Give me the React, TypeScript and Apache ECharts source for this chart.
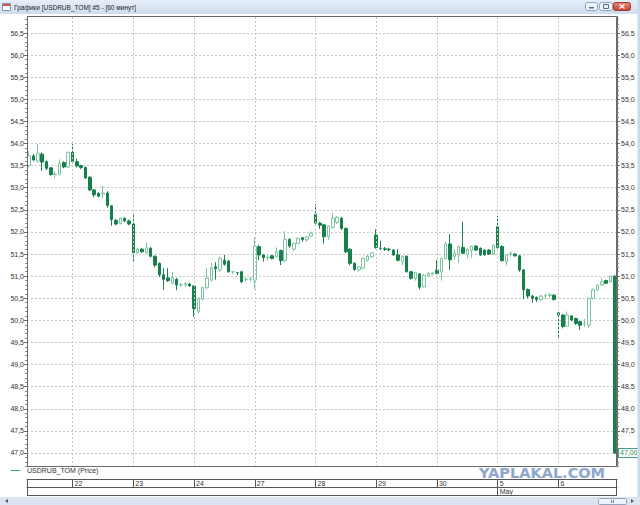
import React, { useEffect, useRef } from 'react';
import * as echarts from 'echarts';

// ---- data ----
const dayLabels = ['21', '22', '23', '24', '27', '28', '29', '30', '5', '6'];
const monthStartDay = '5';
const monthLabel = 'May';
const seriesName = 'USDRUB_TOM (Price)';
const windowTitle = 'Графики [USDRUB_TOM] #5 - [60 минут]';
const lastPrice = 47.0;
const lastPriceLabel = '47,00';

// each candle: [open, close, low, high]
const day21 = [
  [53.50, 53.72, 53.46, 53.83], [53.72, 53.63, 53.60, 53.76], [53.60, 53.78, 53.57, 53.99],
  [53.76, 53.58, 53.38, 53.80], [53.59, 53.44, 53.40, 53.62], [53.45, 53.30, 53.27, 53.47],
  [53.30, 53.31, 53.22, 53.37], [53.30, 53.55, 53.28, 53.64], [53.57, 53.47, 53.44, 53.60],
  [53.47, 53.80, 53.45, 53.82],
];
const day22 = [
  [53.80, 53.59, 53.55, 53.99], [53.59, 53.49, 53.46, 53.66], [53.50, 53.46, 53.42, 53.52],
  [53.46, 53.22, 53.20, 53.48], [53.24, 52.95, 52.92, 53.26], [52.95, 52.84, 52.78, 52.97],
  [52.87, 52.81, 52.78, 52.90], [52.86, 52.88, 52.76, 53.04], [52.88, 52.60, 52.55, 52.92],
  [52.59, 52.28, 52.14, 52.61], [52.26, 52.18, 52.15, 52.30], [52.19, 52.31, 52.17, 52.33],
  [52.31, 52.25, 52.22, 52.33], [52.25, 52.18, 52.15, 52.28],
];
const day23 = [
  [52.18, 51.53, 51.33, 52.42], [51.53, 51.61, 51.50, 51.65], [51.61, 51.55, 51.52, 51.64],
  [51.53, 51.64, 51.50, 51.76], [51.63, 51.45, 51.42, 51.66], [51.45, 51.25, 51.20, 51.47],
  [51.29, 51.03, 50.98, 51.31], [51.03, 50.93, 50.69, 51.18], [50.96, 50.90, 50.87, 51.18],
  [50.84, 50.97, 50.81, 51.10], [50.93, 50.80, 50.68, 50.96], [50.80, 50.81, 50.75, 50.85],
  [50.81, 50.83, 50.75, 50.87], [50.82, 50.78, 50.76, 50.85],
];
const day24 = [
  [50.78, 50.27, 50.08, 50.80], [50.20, 50.50, 50.15, 50.52], [50.48, 50.74, 50.45, 50.76],
  [50.74, 50.95, 50.70, 51.18], [50.91, 51.18, 50.88, 51.30], [51.21, 51.17, 50.92, 51.32],
  [51.14, 51.40, 51.10, 51.44], [51.36, 51.27, 51.24, 51.48], [51.34, 51.10, 51.08, 51.37],
  [51.10, 51.10, 51.05, 51.11], [51.08, 51.08, 51.02, 51.09], [51.10, 50.87, 50.85, 51.12],
  [50.93, 50.93, 50.88, 50.98], [50.93, 50.94, 50.88, 50.99],
];
const day27 = [
  [50.91, 51.67, 50.70, 51.88], [51.67, 51.48, 51.36, 51.70], [51.48, 51.42, 51.33, 51.50],
  [51.42, 51.43, 51.35, 51.47], [51.46, 51.40, 51.38, 51.48], [51.44, 51.55, 51.42, 51.65],
  [51.58, 51.35, 51.25, 51.60], [51.35, 51.83, 51.32, 52.02], [51.83, 51.68, 51.64, 51.86],
  [51.61, 51.74, 51.56, 51.76], [51.74, 51.85, 51.72, 51.88], [51.87, 51.83, 51.78, 51.89],
  [51.82, 51.89, 51.78, 51.91], [51.91, 51.97, 51.89, 52.01],
];
const day28 = [
  [52.40, 52.20, 52.17, 52.63], [52.20, 52.15, 52.07, 52.22], [52.16, 51.89, 51.74, 52.18],
  [51.89, 52.13, 51.82, 52.15], [52.10, 52.31, 52.07, 52.42], [52.22, 52.33, 52.18, 52.36],
  [52.31, 52.08, 52.05, 52.34], [52.08, 51.55, 51.52, 52.10], [51.61, 51.29, 51.25, 51.63],
  [51.29, 51.15, 51.12, 51.31], [51.14, 51.21, 51.10, 51.23], [51.18, 51.40, 51.16, 51.43],
  [51.36, 51.45, 51.33, 51.48], [51.44, 51.53, 51.42, 51.55],
];
const day29 = [
  [51.93, 51.65, 51.62, 52.06], [51.63, 51.63, 51.59, 51.80], [51.62, 51.61, 51.57, 51.66],
  [51.61, 51.60, 51.56, 51.64], [51.59, 51.48, 51.46, 51.61], [51.48, 51.36, 51.33, 51.61],
  [51.33, 51.45, 51.25, 51.47], [51.45, 51.10, 51.08, 51.47], [51.10, 50.95, 50.92, 51.12],
  [50.95, 51.08, 50.90, 51.10], [51.05, 50.75, 50.70, 51.07], [50.76, 51.02, 50.74, 51.05],
  [51.00, 51.06, 50.98, 51.09], [51.04, 51.07, 51.03, 51.09],
];
const day30 = [
  [51.14, 51.06, 51.04, 51.37], [51.10, 51.40, 50.90, 51.42], [51.40, 51.73, 51.38, 51.78],
  [51.73, 51.37, 51.14, 51.95], [51.45, 51.52, 51.37, 51.62], [51.48, 51.67, 51.30, 51.70],
  [51.65, 51.52, 51.50, 52.23], [51.48, 51.61, 51.40, 51.63], [51.58, 51.68, 51.42, 51.70],
  [51.68, 51.59, 51.57, 51.70], [51.63, 51.48, 51.46, 51.65], [51.59, 51.48, 51.47, 51.61],
  [51.59, 51.50, 51.48, 51.61], [51.50, 51.70, 51.48, 51.72],
];
const day5 = [
  [52.12, 51.65, 51.62, 52.36], [51.67, 51.35, 51.33, 51.70], [51.33, 51.48, 51.24, 51.50],
  [51.50, 51.52, 51.44, 51.56], [51.50, 51.46, 51.44, 51.52], [51.46, 51.14, 51.10, 51.48],
  [51.14, 50.69, 50.48, 51.16], [50.70, 50.55, 50.50, 50.72], [50.55, 50.50, 50.40, 50.58],
  [50.52, 50.47, 50.42, 50.54], [50.47, 50.55, 50.44, 50.57], [50.55, 50.56, 50.48, 50.60],
  [50.56, 50.58, 50.52, 50.62], [50.57, 50.47, 50.45, 50.59],
];
const day6 = [
  [50.17, 50.12, 49.59, 50.19], [50.12, 49.86, 49.82, 50.14], [49.87, 50.12, 49.85, 50.20],
  [50.10, 50.01, 49.98, 50.12], [50.04, 49.93, 49.90, 50.06], [49.97, 49.89, 49.78, 49.99],
  [49.92, 49.92, 49.85, 50.03], [49.89, 50.50, 49.82, 50.52], [50.50, 50.69, 50.47, 50.72],
  [50.69, 50.80, 50.66, 50.82], [50.80, 50.87, 50.78, 50.97], [50.90, 50.84, 50.82, 50.92],
  [50.87, 51.00, 50.85, 51.02], [51.00, 47.00, 46.98, 51.02],
];
const days = [day21, day22, day23, day24, day27, day28, day29, day30, day5, day6];

const yMin = 46.5;
const yMax = 57;
const yStep = 0.5;

// ---- derived ----
const categories: string[] = [];
const dayStartIdx: number[] = [];
const candles: number[][] = [];
days.forEach((d, di) => {
  dayStartIdx.push(categories.length);
  d.forEach((c, k) => {
    categories.push(`${dayLabels[di]} ${24 - d.length + k}:00`);
    candles.push(c);
  });
});
const isDivider = (i: number) => i !== 0 && dayStartIdx.includes(i);
const monthIdx = dayStartIdx[dayLabels.indexOf(monthStartDay)];

const FONT = '"Liberation Sans", Arial, sans-serif';
const near = (a: number, b: number) => Math.abs(a - b) < 1e-6;
const fmtY = (v: number) => (near(v, yMin) || near(v, yMax) ? '' : v.toFixed(1).replace('.', ','));
const fmtYRight = (v: number) => (near(v, lastPrice) ? '' : fmtY(v));

export default function App() {
  const ref = useRef<HTMLDivElement>(null);
  useEffect(() => {
    const chart = echarts.init(ref.current!, null, { renderer: 'svg' });
    const yAxisCommon = {
      type: 'value',
      min: yMin,
      max: yMax,
      interval: yStep,
      axisLine: { show: true, lineStyle: { color: '#6a6a6a', width: 1 } },
      axisTick: { show: true, length: 3, lineStyle: { color: '#6a6a6a' } },
      minorTick: { show: true, splitNumber: 5, length: 2, lineStyle: { color: '#8a8a8a' } },
      minorSplitLine: { show: false },
    };
    const dateLabel = {
      show: true,
      align: 'left',
      margin: 1,
      padding: [0, 0, 0, 2],
      fontSize: 7,
      lineHeight: 7,
      color: '#333',
      fontFamily: FONT,
    };
    const option: any = {
      animation: false,
      backgroundColor: '#ffffff',
      textStyle: { fontFamily: FONT },
      grid: { left: 27, right: 23, top: 10.9, bottom: 29.9, containLabel: false },
      legend: {
        show: true,
        left: 11,
        top: 467,
        padding: 0,
        z: 300,
        selectedMode: false,
        icon: 'rect',
        itemWidth: 9,
        itemHeight: 1,
        itemStyle: { color: '#3a9a88', borderWidth: 0 },
        textStyle: { fontSize: 7, color: '#333', fontFamily: FONT, padding: [0, 0, 0, 2] },
        data: [seriesName],
      },
      xAxis: [
        {
          type: 'category',
          data: categories,
          boundaryGap: true,
          axisLine: { show: false },
          axisTick: { show: false },
          axisLabel: { show: false },
          splitLine: { show: false },
        },
        {
          type: 'category',
          data: categories,
          position: 'bottom',
          offset: 4,
          boundaryGap: true,
          axisLine: { show: true, lineStyle: { color: '#555' } },
          axisTick: { show: true, alignWithLabel: true, length: 8, interval: (i: number) => isDivider(i), lineStyle: { color: '#555' } },
          axisLabel: {
            ...dateLabel,
            interval: (i: number) => isDivider(i),
            formatter: (v: string) => v.split(' ')[0],
          },
          splitLine: { show: false },
        },
        {
          type: 'category',
          data: categories,
          position: 'bottom',
          offset: 12,
          boundaryGap: true,
          axisLine: { show: true, lineStyle: { color: '#555' } },
          axisTick: { show: true, alignWithLabel: true, length: 8, interval: (i: number) => i === monthIdx, lineStyle: { color: '#555' } },
          axisLabel: {
            ...dateLabel,
            interval: (i: number) => i === monthIdx,
            formatter: () => monthLabel,
          },
          splitLine: { show: false },
        },
      ],
      yAxis: [
        {
          ...yAxisCommon,
          position: 'left',
          axisLabel: { formatter: fmtY, fontSize: 7, color: '#333', margin: 3, fontFamily: FONT },
          splitLine: { show: true, lineStyle: { color: '#c6c6c6', type: [2, 2], width: 1 } },
        },
        {
          ...yAxisCommon,
          position: 'right',
          axisLabel: { formatter: fmtYRight, fontSize: 7, color: '#333', margin: 4, align: 'left', fontFamily: FONT },
          splitLine: { show: false },
        },
      ],
      series: [
        {
          type: 'candlestick',
          name: seriesName,
          xAxisIndex: 0,
          yAxisIndex: 0,
          data: candles,
          barWidth: 3,
          itemStyle: {
            color: '#ffffff',
            color0: '#17804c',
            borderColor: '#7cc59e',
            borderColor0: '#17804c',
            borderWidth: 1,
          },
          emphasis: { disabled: true },
          markLine: {
            silent: true,
            symbol: ['none', 'none'],
            label: { show: false },
            lineStyle: { color: '#c6c6c6', type: [2, 2], width: 1 },
            data: [
              ...dayStartIdx.filter((i) => i !== 0).map((i) => ({ xAxis: categories[i] })),
              {
                yAxis: lastPrice,
                lineStyle: { color: 'rgba(0,0,0,0)', width: 0 },
                label: {
                  show: true,
                  position: 'end',
                  distance: 2,
                  formatter: lastPriceLabel,
                  color: '#1d8a4c',
                  fontSize: 7,
                  fontFamily: FONT,
                  backgroundColor: '#ffffff',
                  borderColor: '#3f9a86',
                  borderWidth: 1,
                  padding: [1, 1, 0, 1],
                  opacity: 1,
                },
              },
            ],
          },
        },
      ],
      graphic: [
        // covers outside the visible frame
        { type: 'rect', z: 90, shape: { x: 0, y: 0, width: 640, height: 16 }, style: { fill: '#ffffff' } },
        { type: 'rect', z: 90, shape: { x: 0, y: 467, width: 637, height: 11.6 }, style: { fill: '#ffffff' } },
        // title bar
        {
          type: 'rect', z: 91, shape: { x: 0, y: 0, width: 640, height: 14 },
          style: { fill: new echarts.graphic.LinearGradient(0, 0, 0, 1, [{ offset: 0, color: '#e6eef9' }, { offset: 1, color: '#cfdcee' }]) },
        },
        { type: 'rect', z: 92, shape: { x: 2.5, y: 3.5, width: 8, height: 7 }, style: { fill: '#ffffff', stroke: '#7d93b2', lineWidth: 1 } },
        { type: 'rect', z: 92, shape: { x: 3, y: 4, width: 7, height: 2 }, style: { fill: '#d9574a' } },
        { type: 'text', z: 92, x: 14, y: 7, style: { text: windowTitle, fill: '#1e1e1e', fontSize: 6.5, fontFamily: FONT, verticalAlign: 'middle' } },
        { type: 'rect', z: 92, shape: { x: 585.5, y: 2.5, width: 12, height: 8, r: 2 }, style: { fill: '#edf3fa', stroke: '#8ea3c0', lineWidth: 1 } },
        { type: 'rect', z: 93, shape: { x: 589, y: 7, width: 5, height: 1.5 }, style: { fill: '#5a6b85' } },
        { type: 'rect', z: 92, shape: { x: 599.5, y: 2.5, width: 13, height: 8, r: 2 }, style: { fill: '#edf3fa', stroke: '#8ea3c0', lineWidth: 1 } },
        { type: 'rect', z: 93, shape: { x: 603.5, y: 4.5, width: 5, height: 4 }, style: { fill: 'none', stroke: '#5a6b85', lineWidth: 1 } },
        {
          type: 'rect', z: 92, shape: { x: 613.5, y: 2.5, width: 17, height: 8, r: 2 },
          style: { fill: new echarts.graphic.LinearGradient(0, 0, 0, 1, [{ offset: 0, color: '#e8897c' }, { offset: 1, color: '#c7402f' }]), stroke: '#9d3a2e', lineWidth: 1 },
        },
        { type: 'line', z: 93, shape: { x1: 619.5, y1: 4.5, x2: 624.5, y2: 8.5 }, style: { stroke: '#ffffff', lineWidth: 1.2 } },
        { type: 'line', z: 93, shape: { x1: 624.5, y1: 4.5, x2: 619.5, y2: 8.5 }, style: { stroke: '#ffffff', lineWidth: 1.2 } },
        // right window border
        { type: 'rect', z: 91, shape: { x: 637.5, y: 0, width: 2.5, height: 505 }, style: { fill: '#c9d8ec' } },
        // plot frame
        { type: 'rect', z: 95, shape: { x: 27.5, y: 16.5, width: 589, height: 450 }, style: { fill: 'none', stroke: '#6a6a6a', lineWidth: 1 } },
        // date box border
        { type: 'line', z: 95, shape: { x1: 27, y1: 495.5, x2: 617, y2: 495.5 }, style: { stroke: '#555', lineWidth: 1 } },
        { type: 'line', z: 95, shape: { x1: 27.5, y1: 479, x2: 27.5, y2: 496 }, style: { stroke: '#555', lineWidth: 1 } },
        { type: 'line', z: 95, shape: { x1: 616.5, y1: 479, x2: 616.5, y2: 496 }, style: { stroke: '#555', lineWidth: 1 } },
        // scrollbar
        { type: 'rect', z: 91, shape: { x: 0, y: 497, width: 640, height: 8 }, style: { fill: '#dbe5f2' } },
        { type: 'polygon', z: 92, shape: { points: [[5, 501], [8, 499], [8, 503]] }, style: { fill: '#4d5a6c' } },
        { type: 'polygon', z: 92, shape: { points: [[634, 501], [631, 499], [631, 503]] }, style: { fill: '#4d5a6c' } },
        { type: 'rect', z: 92, shape: { x: 598.5, y: 498.5, width: 28, height: 6, r: 1 }, style: { fill: '#eef3f9', stroke: '#93a4bc', lineWidth: 1 } },
        { type: 'line', z: 93, shape: { x1: 611.5, y1: 500, x2: 611.5, y2: 503 }, style: { stroke: '#6d7c92', lineWidth: 1 } },
        { type: 'line', z: 93, shape: { x1: 613.5, y1: 500, x2: 613.5, y2: 503 }, style: { stroke: '#6d7c92', lineWidth: 1 } },
        // watermark
        {
          type: 'text', z: 99, x: 479, y: 473,
          style: {
            text: 'YAPLAKAL.COM', fill: '#8fa7cc', stroke: '#eef3fa', lineWidth: 0.6,
            fontSize: 14.5, lineHeight: 12, fontWeight: 'bold', fontFamily: '"DejaVu Sans", Arial, sans-serif', verticalAlign: 'middle',
          },
        },
      ],
    };
    chart.setOption(option);
    return () => chart.dispose();
  }, []);
  return <div ref={ref} style={{ position: 'fixed', left: 0, top: 0, width: 640, height: 505 }} />;
}
